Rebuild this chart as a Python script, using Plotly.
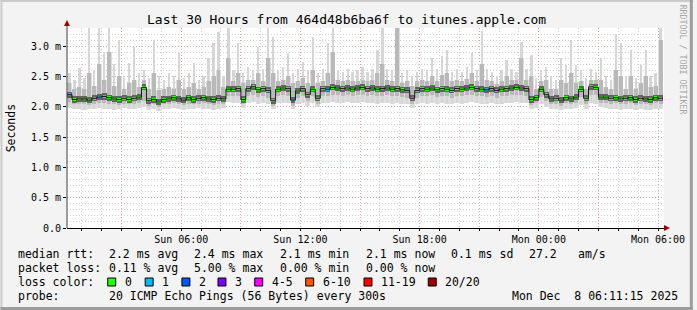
import plotly.graph_objects as go
import pandas as pd

# ---------------- data (values in ms) ----------------
times = pd.date_range("2025-12-07 00:22:30", periods=120, freq="15min")

median = [
    2.20, 2.12, 2.13, 2.13, 2.11, 2.14, 2.16, 2.17, 2.15, 2.13,
    2.12, 2.14, 2.12, 2.14, 2.16, 2.32, 2.10, 2.12, 2.08, 2.12,
    2.13, 2.15, 2.13, 2.11, 2.15, 2.12, 2.14, 2.15, 2.13, 2.12,
    2.14, 2.13, 2.29, 2.29, 2.30, 2.12, 2.30, 2.33, 2.28, 2.30,
    2.27, 2.10, 2.29, 2.31, 2.30, 2.11, 2.26, 2.30, 2.20, 2.29,
    2.14, 2.30, 2.29, 2.32, 2.31, 2.30, 2.31, 2.29, 2.31, 2.32,
    2.30, 2.31, 2.29, 2.30, 2.31, 2.29, 2.30, 2.28, 2.27, 2.14,
    2.27, 2.30, 2.29, 2.31, 2.28, 2.30, 2.29, 2.27, 2.30, 2.29,
    2.31, 2.32, 2.30, 2.29, 2.28, 2.30, 2.27, 2.29, 2.30, 2.31,
    2.32, 2.31, 2.30, 2.12, 2.15, 2.29, 2.20, 2.13, 2.14, 2.11,
    2.15, 2.13, 2.16, 2.29, 2.14, 2.33, 2.32, 2.16, 2.16, 2.14,
    2.15, 2.13, 2.14, 2.15, 2.12, 2.14, 2.13, 2.12, 2.15, 2.14,
]

loss = [
    1, 0, 0, 0, 0, 0, 1, 0, 0, 0,
    0, 0, 0, 0, 0, 0, 0, 0, 0, 0,
    0, 0, 0, 0, 0, 0, 0, 0, 0, 0,
    0, 0, 0, 0, 0, 0, 0, 0, 0, 0,
    0, 0, 0, 0, 0, 1, 0, 0, 0, 0,
    0, 0, 1, 0, 0, 0, 0, 0, 0, 0,
    0, 0, 0, 1, 0, 0, 0, 0, 1, 0,
    0, 0, 0, 0, 0, 0, 0, 0, 0, 0,
    0, 0, 0, 0, 1, 0, 0, 0, 0, 0,
    0, 0, 0, 0, 0, 0, 0, 0, 0, 0,
    0, 0, 0, 0, 0, 0, 0, 0, 0, 0,
    0, 0, 0, 0, 0, 0, 0, 0, 0, 0,
]

ping_max = [
    2.55, 2.45, 2.64, 2.48, 3.30, 2.60, 3.30, 2.90, 3.30, 2.70,
    3.10, 2.50, 2.72, 2.99, 2.55, 2.60, 2.48, 3.10, 2.50, 2.45,
    2.55, 2.50, 2.88, 2.48, 2.55, 2.72, 2.45, 2.50, 2.80, 3.05,
    3.23, 2.50, 3.30, 2.60, 3.05, 2.55, 2.65, 2.60, 2.99, 2.62,
    3.30, 3.15, 2.60, 2.65, 2.88, 2.55, 2.62, 2.74, 2.60, 3.15,
    2.55, 2.62, 3.05, 3.30, 2.60, 2.58, 2.62, 2.58, 2.60, 2.65,
    2.58, 2.62, 2.94, 3.30, 2.62, 2.60, 3.30, 2.55, 2.60, 2.50,
    2.58, 2.62, 2.60, 2.80, 2.62, 2.83, 2.94, 2.58, 2.62, 2.58,
    2.66, 2.88, 2.60, 3.25, 2.62, 2.58, 2.50, 2.60, 2.77, 2.62,
    2.58, 3.07, 2.62, 2.86, 2.48, 2.60, 2.66, 2.50, 2.45, 2.80,
    2.69, 3.10, 2.69, 2.60, 2.48, 2.62, 2.58, 2.80, 2.50, 2.45,
    3.20, 3.05, 2.50, 2.94, 2.48, 2.69, 2.94, 2.50, 2.55, 3.30,
]

ping_min = [
    1.98, 1.96, 1.97, 1.95, 1.97, 1.96, 1.98, 1.97, 1.96, 1.95,
    1.97, 1.98, 1.96, 1.97, 1.98, 2.00, 1.94, 1.96, 1.93, 1.96,
    1.97, 1.98, 1.96, 1.95, 1.97, 1.96, 1.98, 1.97, 1.96, 1.95,
    1.97, 1.98, 2.08, 2.07, 2.06, 1.98, 2.06, 2.08, 2.05, 2.07,
    2.05, 1.97, 2.06, 2.07, 2.06, 1.96, 2.05, 2.07, 2.02, 2.06,
    1.99, 2.07, 2.06, 2.08, 2.07, 2.06, 2.08, 2.06, 2.07, 2.08,
    2.06, 2.07, 2.05, 2.06, 2.07, 2.05, 2.06, 2.05, 2.04, 1.98,
    2.04, 2.06, 2.05, 2.07, 2.05, 2.06, 2.05, 2.04, 2.06, 2.05,
    2.07, 2.08, 2.06, 2.05, 2.04, 2.06, 2.04, 2.05, 2.06, 2.07,
    2.08, 2.07, 2.06, 1.96, 1.98, 2.04, 2.00, 1.96, 1.97, 1.94,
    1.97, 1.96, 1.98, 2.03, 1.96, 2.06, 2.05, 1.99, 1.98, 1.96,
    1.97, 1.95, 1.96, 1.97, 1.94, 1.96, 1.95, 1.94, 1.97, 1.96,
]

p_low = [
    2.08, 2.04, 2.05, 2.04, 2.03, 2.05, 2.06, 2.07, 2.05, 2.04,
    2.03, 2.05, 2.04, 2.05, 2.06, 2.10, 2.02, 2.04, 2.00, 2.04,
    2.05, 2.06, 2.04, 2.03, 2.05, 2.04, 2.05, 2.06, 2.04, 2.03,
    2.05, 2.05, 2.17, 2.17, 2.18, 2.04, 2.18, 2.20, 2.16, 2.18,
    2.15, 2.02, 2.17, 2.19, 2.18, 2.02, 2.14, 2.18, 2.10, 2.17,
    2.05, 2.18, 2.17, 2.20, 2.19, 2.18, 2.19, 2.17, 2.19, 2.20,
    2.18, 2.19, 2.17, 2.18, 2.19, 2.17, 2.18, 2.16, 2.15, 2.04,
    2.15, 2.18, 2.17, 2.19, 2.16, 2.18, 2.17, 2.15, 2.18, 2.17,
    2.19, 2.20, 2.18, 2.17, 2.16, 2.18, 2.15, 2.17, 2.18, 2.19,
    2.20, 2.19, 2.18, 2.03, 2.06, 2.16, 2.10, 2.04, 2.05, 2.02,
    2.06, 2.04, 2.07, 2.16, 2.05, 2.20, 2.19, 2.07, 2.07, 2.05,
    2.06, 2.04, 2.05, 2.06, 2.03, 2.05, 2.04, 2.03, 2.06, 2.05,
]

p_high = [
    2.40, 2.30, 2.32, 2.30, 2.55, 2.35, 2.70, 2.45, 2.90, 2.35,
    2.50, 2.30, 2.40, 2.45, 2.33, 2.45, 2.30, 2.55, 2.28, 2.30,
    2.32, 2.30, 2.45, 2.30, 2.33, 2.40, 2.30, 2.32, 2.42, 2.50,
    2.60, 2.32, 2.80, 2.42, 2.55, 2.40, 2.45, 2.45, 2.55, 2.43,
    2.80, 2.55, 2.42, 2.45, 2.50, 2.40, 2.42, 2.48, 2.40, 2.60,
    2.40, 2.43, 2.55, 2.90, 2.44, 2.42, 2.44, 2.42, 2.43, 2.45,
    2.42, 2.44, 2.55, 2.70, 2.44, 2.42, 3.30, 2.40, 2.42, 2.35,
    2.42, 2.44, 2.42, 2.50, 2.43, 2.52, 2.55, 2.42, 2.44, 2.42,
    2.46, 2.55, 2.43, 2.70, 2.44, 2.42, 2.38, 2.43, 2.50, 2.44,
    2.44, 2.80, 2.44, 2.50, 2.30, 2.42, 2.45, 2.30, 2.30, 2.45,
    2.40, 2.55, 2.40, 2.42, 2.30, 2.45, 2.44, 2.45, 2.32, 2.30,
    2.60, 2.50, 2.30, 2.50, 2.30, 2.40, 2.50, 2.32, 2.35, 3.10,
]

loss_labels = ["0", "1", "2", "3", "4-5", "6-10", "11-19", "20/20"]
loss_colors = ["#26ff00", "#00b8ff", "#0059ff", "#7e00ff",
               "#ff00ff", "#ff5500", "#ff0000", "#a10000"]

y_tickvals = [0, 0.5, 1.0, 1.5, 2.0, 2.5, 3.0]
y_ticktext = ["0.0", "0.5 m", "1.0 m", "1.5 m", "2.0 m", "2.5 m", "3.0 m"]

x_tickvals = pd.date_range("2025-12-07 03:00", "2025-12-08 06:00", freq="3h")
x_ticktext = [t.strftime("%a %H:%M") if t.hour % 6 == 0 else "" for t in x_tickvals]

title = "Last 30 Hours from 464d48b6ba6f to itunes.apple.com"
rows = [
    [("median rtt:", 16), ("2.2 ms avg", 107), ("2.4 ms max", 193), ("2.1 ms min", 279),
     ("2.1 ms now", 365.7), ("0.1 ms sd", 451.7), ("27.2", 530), ("am/s", 579.3)],
    [("packet loss:", 16), ("0.11 % avg", 107), ("5.00 % max", 193), ("0.00 % min", 279),
     ("0.00 % now", 365.7)],
    [("loss color:", 16)],
    [("probe:", 16), ("20 ICMP Echo Pings (56 Bytes) every 300s", 107),
     ("Mon Dec  8 06:11:15 2025", 512.7)],
]

# ---------------- geometry helpers ----------------
W, H = 697, 310
L, R, T, B = 67, 668, 28, 228
def px(X): return (X - L) / (R - L)
def py(Y): return (B - Y) / (B - T)

MONO = "DejaVu Sans Mono"
step = pd.Timedelta("15min")
bw = step / pd.Timedelta("1ms")

fig = go.Figure()

def band(lo, hi, color, wfrac=1.0):
    fig.add_trace(go.Bar(
        x=times, base=lo, y=[h - l for l, h in zip(lo, hi)],
        width=bw * wfrac, marker=dict(color=color, line=dict(width=0)),
        hoverinfo="skip", showlegend=False))

# smoke layers: outer (min..max), middle, core around the median
band(ping_min, p_high, "#dedede")
band(ping_min, ping_max, "#d6d6d6", 0.45)
band(p_low, p_high, "#b9b9b9", 0.8)
core_lo = [m - 0.05 for m in median]
core_hi = [m + 0.05 for m in median]
band(core_lo, core_hi, "#626262")

# median step line
edges = list(times - step / 2) + [times[-1] + step / 2]
fig.add_trace(go.Scatter(
    x=edges, y=median + [median[-1]], mode="lines",
    line=dict(color="#1a1a1a", width=1, shape="hv"),
    hoverinfo="skip", showlegend=False))

# median coloured by loss
mcol = [loss_colors[l] if l < 4 else loss_colors[4] for l in loss]
fig.add_trace(go.Bar(
    x=times, base=[m - 0.022 for m in median], y=[0.044] * len(median),
    width=bw * 0.7, marker=dict(color=mcol, line=dict(width=0)),
    hoverinfo="skip", showlegend=False))

ann = []
ann.append(dict(text=title, x=px(348.5), y=py(19), xanchor="center", yanchor="middle",
                font=dict(family=MONO, size=13, color="#000")))
ann.append(dict(text="Seconds", x=px(11), y=py(128), xanchor="center", yanchor="middle",
                textangle=-90, font=dict(family=MONO, size=11.5, color="#000")))
ann.append(dict(text="RRDTOOL / TOBI OETIKER", x=px(687.5), y=py(60), xanchor="center",
                yanchor="middle", textangle=90,
                font=dict(family=MONO, size=8.3, color="#a6a6a6")))
row_y = [254, 268, 282, 296]
for r, yy in zip(rows, row_y):
    for txt, xx in r:
        ann.append(dict(text=txt.replace(" ", "\u00a0"), x=px(xx), y=py(yy),
                        xanchor="left", yanchor="middle",
                        font=dict(family=MONO, size=11.5, color="#000")))

box_x = [108, 145.7, 182.7, 219, 256, 307.3, 366, 430.7]
lab_x = [123, 160.7, 198, 234, 271.7, 322.7, 380.7, 445.7]
shapes = []
for lab, col, bx, lx in zip(loss_labels, loss_colors, box_x, lab_x):
    shapes.append(dict(type="rect", xref="paper", yref="paper",
                       x0=px(bx), x1=px(bx + 8), y0=py(278), y1=py(286),
                       fillcolor=col, line=dict(color="#000", width=1)))
    ann.append(dict(text=lab, x=px(lx), y=py(282), xanchor="left", yanchor="middle",
                    font=dict(family=MONO, size=11.5, color="#000")))
for a in ann:
    a.update(xref="paper", yref="paper", showarrow=False)

# frame
shapes += [
    dict(type="rect", xref="paper", yref="paper", x0=px(0), x1=px(2), y0=py(0), y1=py(H),
         fillcolor="#cacaca", line=dict(width=0), layer="above"),
    dict(type="rect", xref="paper", yref="paper", x0=px(0), x1=px(W), y0=py(0), y1=py(2),
         fillcolor="#cacaca", line=dict(width=0), layer="above"),
    dict(type="rect", xref="paper", yref="paper", x0=px(694), x1=px(W), y0=py(0), y1=py(H),
         fillcolor="#9c9c9c", line=dict(width=0), layer="above"),
    dict(type="rect", xref="paper", yref="paper", x0=px(0), x1=px(W), y0=py(307), y1=py(H),
         fillcolor="#9c9c9c", line=dict(width=0), layer="above"),
    # y axis line with arrow
    dict(type="line", xref="paper", yref="paper", x0=px(67), x1=px(67), y0=py(228), y1=py(25),
         line=dict(color="#404040", width=1)),
    dict(type="path", xref="paper", yref="paper",
         path=f"M {px(67)},{py(20)} L {px(64)},{py(26)} L {px(70)},{py(26)} Z",
         fillcolor="#a00000", line=dict(width=0)),
    dict(type="path", xref="paper", yref="paper",
         path=f"M {px(674)},{py(228)} L {px(668)},{py(225)} L {px(668)},{py(231)} Z",
         fillcolor="#a00000", line=dict(width=0)),
]

fig.update_layout(
    width=W, height=H,
    margin=dict(l=L, r=W - R, t=T, b=H - B, pad=0),
    paper_bgcolor="#f3f3f3", plot_bgcolor="#ffffff",
    barmode="overlay", bargap=0, showlegend=False,
    annotations=ann, shapes=shapes,
    font=dict(family=MONO, size=10, color="#000"),
)
fig.update_xaxes(
    type="date", range=["2025-12-07 00:15", "2025-12-08 06:18"],
    tickmode="array", tickvals=list(x_tickvals), ticktext=x_ticktext,
    tickfont=dict(family=MONO, size=10, color="#000"),
    showgrid=True, gridcolor="rgba(255,0,0,0.22)", griddash="1px,2px", gridwidth=1,
    minor=dict(dtick=3600000, tick0="2025-12-07 00:00", showgrid=True,
               gridcolor="#d2d2d2", griddash="1px,2px", gridwidth=1,
               ticks="outside", ticklen=2, tickcolor="#000"),
    ticks="outside", ticklen=2, tickcolor="#000",
    showline=True, linecolor="#000", linewidth=1, zeroline=False,
    fixedrange=True,
)
fig.update_yaxes(
    range=[0, 3.3], tickmode="array", tickvals=y_tickvals, ticktext=y_ticktext,
    tickfont=dict(family=MONO, size=10, color="#000"),
    showgrid=True, gridcolor="rgba(255,0,0,0.22)", griddash="1px,2px", gridwidth=1,
    minor=dict(dtick=0.1, tick0=0, showgrid=True, gridcolor="#d2d2d2",
               griddash="1px,2px", gridwidth=1),
    ticks="outside", ticklen=3, tickcolor="#000",
    showline=False, zeroline=False, fixedrange=True,
)

fig.write_html("out.html")
